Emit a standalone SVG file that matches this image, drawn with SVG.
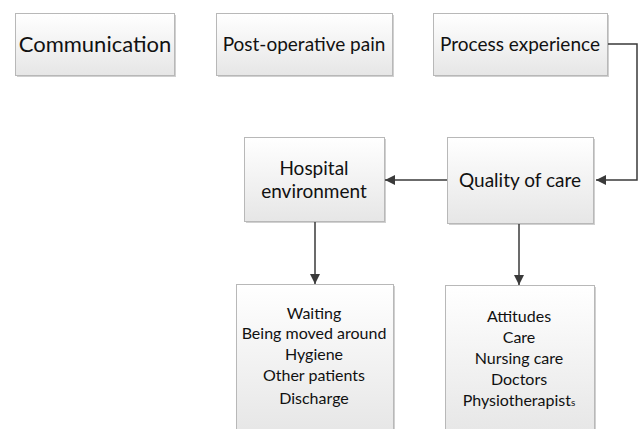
<svg xmlns="http://www.w3.org/2000/svg" width="640" height="429" viewBox="0 0 640 429">
<defs>
<linearGradient id="g" x1="0" y1="0" x2="0" y2="1">
<stop offset="0" stop-color="#ffffff"/>
<stop offset="1" stop-color="#e6e6e6"/>
</linearGradient>
<marker id="arr" viewBox="0 0 10 10" refX="10" refY="5" markerWidth="10" markerHeight="10" markerUnits="userSpaceOnUse" orient="auto">
<path d="M0,0 L10,5 L0,10 z" fill="#3a3a3a"/>
</marker>
</defs>
<style>
.box{fill:url(#g);stroke:#b8b8b8;stroke-width:1}
.sh{fill:#d0d0d0}
text{font-family:Lato,"Open Sans",sans-serif;fill:#111;text-anchor:middle}
.big{font-size:22px}
.mid{font-size:19px}
.sm{font-size:16px}
.con{fill:none;stroke:#3a3a3a;stroke-width:1.5}
</style>
<rect width="640" height="429" fill="#ffffff"/>
<g id="n-communication">
<rect class="sh" x="17" y="15" width="159" height="62"/>
<rect class="box" x="15.5" y="13.5" width="159" height="62"/>
<text class="big" x="95" y="52">Communication</text>
</g>
<g id="n-postop">
<rect class="sh" x="218" y="15" width="176" height="62"/>
<rect class="box" x="216.5" y="13.5" width="176" height="62"/>
<text class="mid" x="304" y="51">Post-operative pain</text>
</g>
<g id="n-process">
<rect class="sh" x="435" y="15" width="174" height="62"/>
<rect class="box" x="433.5" y="13.5" width="174" height="62"/>
<text class="mid" x="520" y="51">Process experience</text>
</g>
<g id="n-hospital">
<rect class="sh" x="246" y="139" width="140" height="84"/>
<rect class="box" x="244.5" y="137.5" width="140" height="84"/>
<text class="mid" x="314" y="175">Hospital</text>
<text class="mid" x="314" y="198">environment</text>
</g>
<g id="n-quality">
<rect class="sh" x="449" y="139" width="146" height="86"/>
<rect class="box" x="447.5" y="137.5" width="146" height="86"/>
<text class="mid" x="520" y="187">Quality of care</text>
</g>
<g id="n-envlist">
<rect class="sh" x="238" y="286" width="157" height="150"/>
<rect class="box" x="236.5" y="284.5" width="157" height="150"/>
<text class="sm" x="314" y="319">Waiting</text>
<text class="sm" x="314" y="339">Being moved around</text>
<text class="sm" x="314" y="360">Hygiene</text>
<text class="sm" x="314" y="381">Other patients</text>
<text class="sm" x="314" y="404">Discharge</text>
</g>
<g id="n-carelist">
<rect class="sh" x="447" y="287" width="149" height="150"/>
<rect class="box" x="445.5" y="285.5" width="149" height="150"/>
<text class="sm" x="519" y="322">Attitudes</text>
<text class="sm" x="519" y="343">Care</text>
<text class="sm" x="519" y="364">Nursing care</text>
<text class="sm" x="519" y="385">Doctors</text>
<text class="sm" x="519" y="406">Physiotherapist<tspan font-size="10px">s</tspan></text>
</g>
<g id="connectors">
<path class="con" d="M608,44 H637 V180 H596" marker-end="url(#arr)"/>
<path class="con" d="M447,180 H385" marker-end="url(#arr)"/>
<path class="con" d="M315,222 V284" marker-end="url(#arr)"/>
<path class="con" d="M519,224 V285" marker-end="url(#arr)"/>
</g>
</svg>
